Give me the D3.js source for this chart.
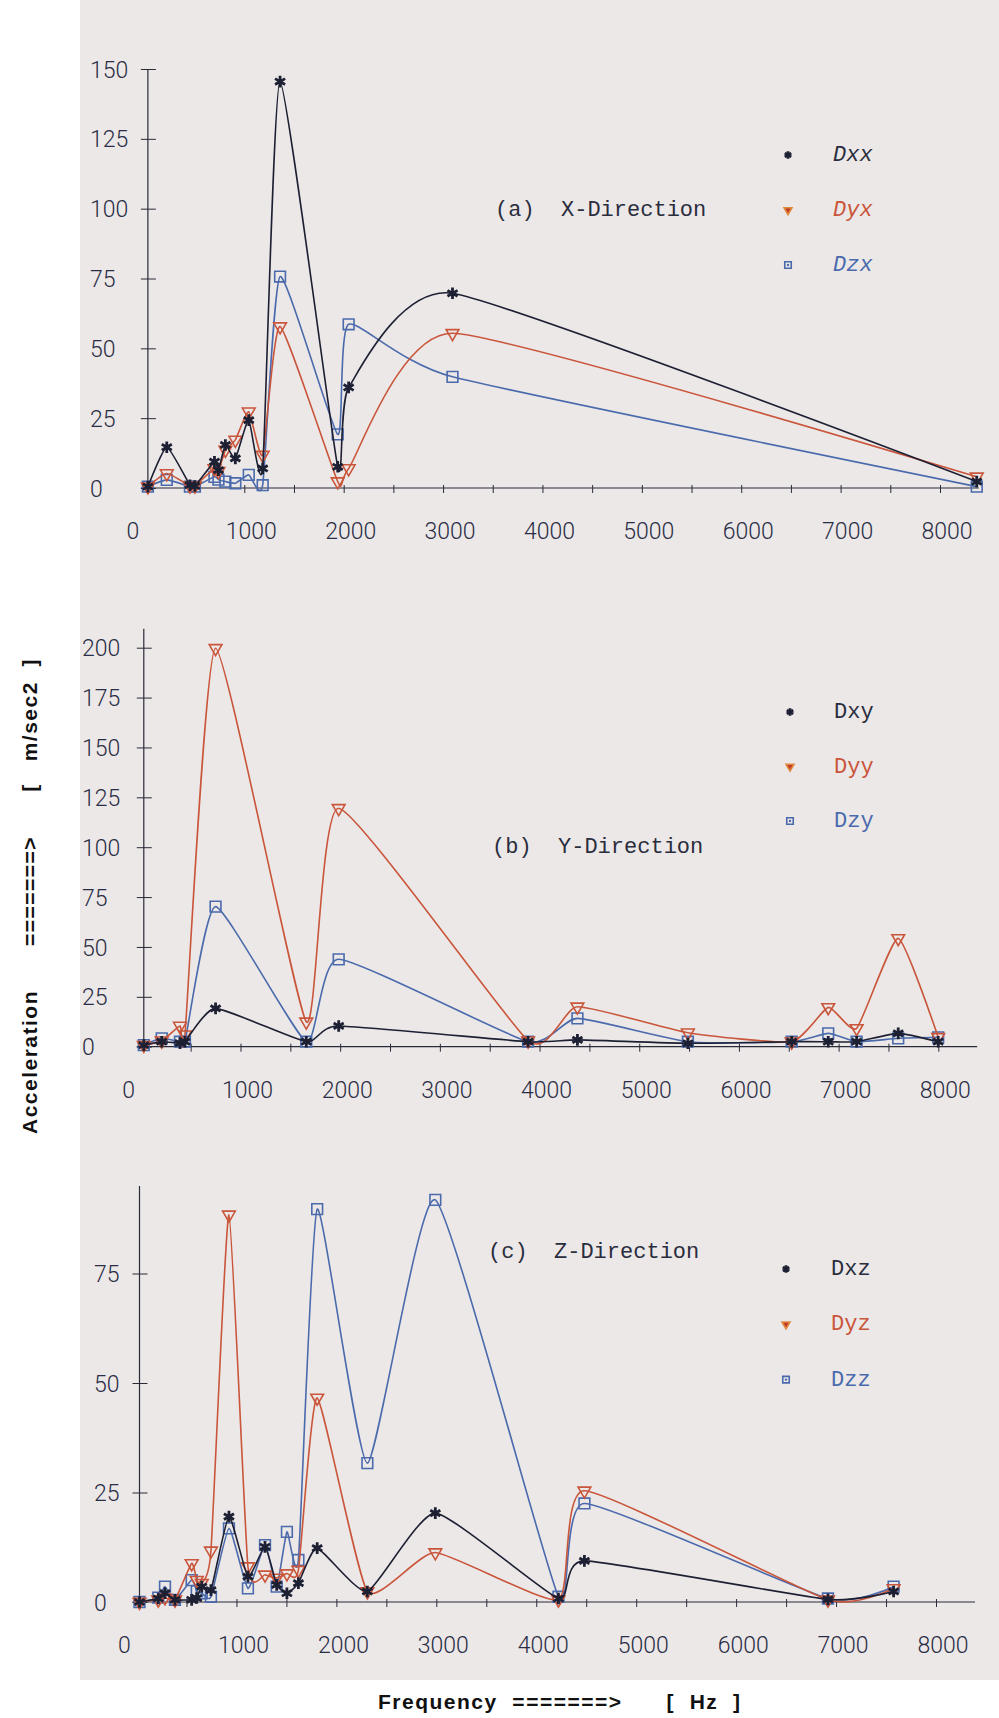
<!DOCTYPE html>
<html>
<head>
<meta charset="utf-8">
<script src="https://cdn.jsdelivr.net/npm/d3@7"></script>
<style>
  body { margin: 0; background: #fff; }
  svg { display: block; }
  .tick text { font-family: Roboto, sans-serif; font-weight: 300; font-size: 23px; fill: #2a2d45; }
  .title { font-family: "Liberation Mono", monospace; font-size: 22px; fill: #2a2d3d; white-space: pre; }
  .legend text { font-family: "Liberation Mono", monospace; font-size: 22px; }
  .axisLabel { font-family: "Liberation Sans", Arial, sans-serif; font-weight: bold; font-size: 21px; letter-spacing: 1.5px; fill: #111; white-space: pre; }
</style>
</head>
<body>
<div class="chart"></div>
<script>
// accelerations [m/sec2] against frequency [Hz]

// (a) X-Direction
var freqA = [30, 220, 453, 503, 700, 740, 810, 910, 1045, 1185, 1360, 1940, 2050, 3095, 8370];
var dxx = [0.5, 14.6, 1, 0.7, 9.4, 6.4, 15.4, 10.6, 24.3, 7, 145.5, 7.6, 36, 69.7, 2.3];
var dyx = [0.5, 5.2, 0.8, 0.8, 7, 6, 13.6, 17.2, 27.3, 11.8, 57.8, 2.3, 7, 55.4, 4];
var dzx = [0.5, 2.9, 0.5, 0.5, 4, 3, 2.3, 1.7, 4.7, 1, 75.7, 19.2, 58.6, 39.8, 0.5];

// (b) Y-Direction
var freqB = [30, 210, 393, 443, 750, 1660, 1985, 3885, 4380, 5488, 6529, 6896, 7181, 7598, 7999];
var dxy = [0.8, 2.5, 1.8, 2.5, 19.2, 2.5, 10.4, 2.5, 3.4, 1.7, 2.5, 2.5, 2.5, 6.7, 2.5];
var dyy = [0.8, 3, 10.4, 6, 199.7, 12.5, 119.5, 3, 20, 7, 2.5, 19.7, 9.2, 54.3, 4.7];
var dzy = [0.8, 4.2, 2.5, 2.5, 70.2, 2.5, 43.8, 2.5, 14.2, 2.5, 2.5, 6.7, 2.5, 4.2, 4.7];

// (c) Z-Direction
var freqC = [30, 218, 285, 385, 552, 603, 653, 745, 925, 1115, 1286, 1403, 1505, 1620, 1808, 2310, 2990, 4222, 4482, 6919, 7576];
var dxz = [0, 0.8, 2, 0.5, 0.5, 0.9, 3.5, 2.7, 19.5, 5.8, 12.6, 3.9, 2, 4.3, 12.3, 2.4, 20.3, 0.8, 9.4, 0.6, 2.4];
var dyz = [0, 0.5, 1, 0.5, 8.8, 5, 4.3, 11.7, 88.4, 8.1, 6.2, 5.5, 6.5, 7.3, 46.6, 2.4, 11.3, 0.5, 25.4, 0.5, 3.1];
var dzz = [0, 1, 3.5, 0.5, 5, 2.5, 2, 1.2, 16.8, 3.1, 13, 3.5, 16, 9.6, 89.7, 31.7, 91.8, 1.2, 22.5, 0.8, 3.5];

var titles = ["(a)  X-Direction", "(b)  Y-Direction", "(c)  Z-Direction"];
var seriesNames = [["Dxx", "Dyx", "Dzx"], ["Dxy", "Dyy", "Dzy"], ["Dxz", "Dyz", "Dzz"]];

var xTicks = [0, 500, 1000, 1500, 2000, 2500, 3000, 3500, 4000, 4500, 5000, 5500, 6000, 6500, 7000, 7500, 8000];
var yTicksA = [0, 25, 50, 75, 100, 125, 150];
var yTicksB = [0, 25, 50, 75, 100, 125, 150, 175, 200];
var yTicksC = [0, 25, 50, 75];

var colors = ["#1d2033", "#c9553a", "#4a6aac"];
var axisColor = "#2a2a38";

// where each panel sits on the page
var layout = [
  { freq: freqA, values: [dxx, dyx, dzx], yTicks: yTicksA, x0: 144.9, x8000: 940, y0: 488, yTop: 150, yTopPx: 69, axisTop: 150, labelX: 90,
    titleX: 495, titleY: 216, legX: 788, legY: 155, legDy: 55, legTextX: 833, italic: true },
  { freq: freqB, values: [dxy, dyy, dzy], yTicks: yTicksB, x0: 140.8, x8000: 938.3, y0: 1046.7, yTop: 200, yTopPx: 647.7, axisTop: 209.5, labelX: 82,
    titleX: 492, titleY: 853, legX: 790, legY: 712, legDy: 54.5, legTextX: 834, italic: false },
  { freq: freqC, values: [dxz, dyz, dzz], yTicks: yTicksC, x0: 136.5, x8000: 936, y0: 1602, yTop: 75, yTopPx: 1273.5, axisTop: 95, labelX: 94,
    titleX: 488, titleY: 1258, legX: 786, legY: 1269, legDy: 55.3, legTextX: 831, italic: false }
];

var svgWidth = 999;
var svgHeight = 1718;

var svg = d3.select(".chart")
  .append("svg")
  .attr("width", svgWidth)
  .attr("height", svgHeight);

// the photographed plot sheet
svg.append("rect")
  .attr("x", 80).attr("y", 0)
  .attr("width", svgWidth - 80).attr("height", 1680)
  .attr("fill", "#ece8e8");

var asterisk = d3.symbol().type(d3.symbolAsterisk);
var triangle = d3.symbol().type(d3.symbolTriangle);
var square = d3.symbol().type(d3.symbolSquare);

function marker(g, kind, big, color) {
  if (kind === 0) {
    g.append("path").attr("d", asterisk.size(big ? 95 : 40)())
      .attr("fill", "none").attr("stroke", color).attr("stroke-width", 2.8);
  } else if (kind === 1) {
    g.append("path").attr("d", triangle.size(big ? 70 : 28)())
      .attr("transform", "rotate(180)")
      .attr("fill", big ? "none" : "#c23a2a").attr("stroke", big ? color : "#e08a40").attr("stroke-width", 1.6);
  } else {
    g.append("path").attr("d", square.size(big ? 115 : 42)())
      .attr("fill", "none").attr("stroke", color).attr("stroke-width", 1.6);
    if (!big) g.append("circle").attr("r", 1.2).attr("fill", color);
  }
}

layout.forEach(function(L, p) {
  var x = d3.scaleLinear().domain([0, 8000]).range([L.x0, L.x8000]);
  var y = d3.scaleLinear().domain([0, L.yTop]).range([L.y0, L.yTopPx]);
  var axisX = x(30);

  var panel = svg.append("g");

  // x axis
  var xAxis = d3.axisBottom(x)
    .tickValues(xTicks)
    .tickSize(5)
    .tickFormat(function(d) { return d % 1000 === 0 ? d : ""; });
  var gx = panel.append("g")
    .attr("transform", "translate(0," + L.y0 + ")")
    .call(xAxis);
  gx.select(".domain").remove();
  gx.selectAll(".tick line").attr("y1", -3).attr("y2", 5).attr("stroke", axisColor);
  gx.selectAll(".tick").filter(function(d) { return d === 0; }).select("line").remove();
  gx.selectAll(".tick text")
    .attr("text-anchor", "start")
    .attr("x", -19).attr("y", 43).attr("dy", "0.35em");

  panel.append("line")
    .attr("x1", axisX - 7).attr("x2", x(8390))
    .attr("y1", L.y0).attr("y2", L.y0)
    .attr("stroke", axisColor).attr("stroke-width", 1.2);

  // y axis
  var yAxis = d3.axisLeft(y).tickValues(L.yTicks).tickSize(0);
  var gy = panel.append("g")
    .attr("transform", "translate(" + axisX + ",0)")
    .call(yAxis);
  gy.select(".domain").remove();
  gy.selectAll(".tick line").attr("x1", -7).attr("x2", 8).attr("stroke", axisColor);
  gy.selectAll(".tick text")
    .attr("text-anchor", "start")
    .attr("x", L.labelX - axisX).attr("dy", "0.35em");

  panel.append("line")
    .attr("x1", axisX).attr("x2", axisX)
    .attr("y1", L.y0).attr("y2", y(L.axisTop))
    .attr("stroke", axisColor).attr("stroke-width", 1.2);

  // curves and markers
  var line = d3.line()
    .x(function(d) { return x(d.f); })
    .y(function(d) { return y(d.v); })
    .curve(d3.curveCardinal.tension(0.5));

  [2, 1, 0].forEach(function(s) {
    var pts = L.freq.map(function(f, i) { return { f: f, v: L.values[s][i] }; });
    panel.append("path")
      .datum(pts)
      .attr("d", line)
      .attr("fill", "none")
      .attr("stroke", colors[s])
      .attr("stroke-width", 1.6);
    pts.forEach(function(d) {
      var g = panel.append("g").attr("transform", "translate(" + x(d.f) + "," + y(d.v) + ")");
      marker(g, s, true, colors[s]);
    });
  });

  // title
  panel.append("text")
    .attr("class", "title")
    .attr("x", L.titleX).attr("y", L.titleY)
    .text(titles[p]);

  // legend
  var leg = panel.append("g").attr("class", "legend");
  seriesNames[p].forEach(function(name, s) {
    var gy0 = L.legY + s * L.legDy;
    var g = leg.append("g").attr("transform", "translate(" + L.legX + "," + gy0 + ")");
    marker(g, s, false, colors[s]);
    leg.append("text")
      .attr("x", L.legTextX).attr("y", gy0 + 6)
      .attr("fill", s === 0 ? "#2a2d3d" : colors[s])
      .attr("font-style", L.italic ? "italic" : "normal")
      .text(name);
  });
});

// axis titles
svg.append("text")
  .attr("class", "axisLabel")
  .attr("transform", "translate(37,896) rotate(-90)")
  .attr("text-anchor", "middle")
  .text("Acceleration      =======>      [   m/sec2  ]");

svg.append("text")
  .attr("class", "axisLabel")
  .attr("x", 378).attr("y", 1709)
  .text("Frequency  =======>      [  Hz  ]");
</script>
</body>
</html>
